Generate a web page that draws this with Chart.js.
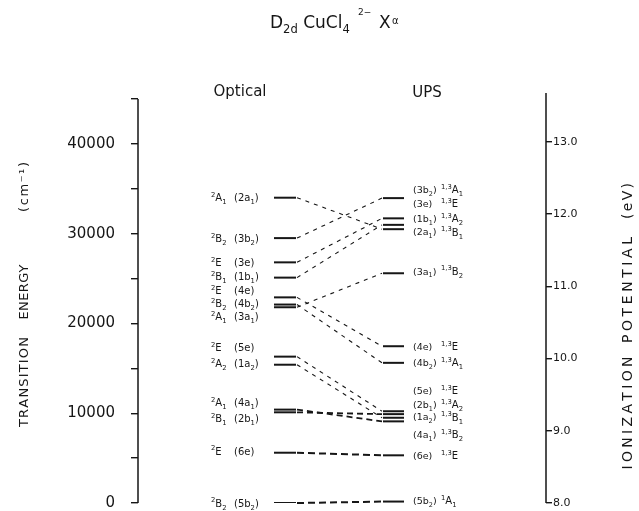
<!DOCTYPE html>
<html><head><meta charset="utf-8">
<script src="https://cdn.jsdelivr.net/npm/chart.js@4.4.0/dist/chart.umd.min.js"></script>
<style>html,body{margin:0;padding:0;background:#fff}canvas{display:block}</style>
</head><body>
<canvas id="c" width="639" height="511"></canvas>
<script>
// ---------------- data ----------------
const optStates   = ['^{2}A_{1}','^{2}B_{2}','^{2}E','^{2}B_{1}','^{2}E','^{2}B_{2}','^{2}A_{1}','^{2}E','^{2}A_{2}','^{2}A_{1}','^{2}B_{1}','^{2}E','^{2}B_{2}'];
const optOrbitals = ['2a_{1}','3b_{2}','3e','1b_{1}','4e','4b_{2}','3a_{1}','5e','1a_{2}','4a_{1}','2b_{1}','6e','5b_{2}'];
const optEnergy   = [34000,29500,26800,25100,22900,22100,21800,16300,15400,10400,10100,5600,0];      // cm-1
const optLabelEnergy = [34000,29500,26800,25200,23700,22200,20800,17300,15500,11200,9400,5800,0];   // cm-1
const upsOrbitals = ['3b_{2}','3e','1b_{1}','2a_{1}','3a_{1}','4e','4b_{2}','5e','2b_{1}','1a_{2}','4a_{1}','6e','5b_{2}'];
const upsStates   = ['^{1,3}A_{1}','^{1,3}E','^{1,3}A_{2}','^{1,3}B_{1}','^{1,3}B_{2}','^{1,3}E','^{1,3}A_{1}','^{1,3}E','^{1,3}A_{2}','^{1,3}B_{1}','^{1,3}B_{2}','^{1,3}E','^{1}A_{1}'];
const upsEnergy   = [12.22,11.94,11.85,11.79,11.18,10.17,9.94,9.27,9.23,9.18,9.13,8.66,8.02];         // eV
const upsLabelEnergy = [12.34,12.15,11.94,11.75,11.21,10.17,9.94,9.56,9.36,9.19,8.95,8.66,8.03];    // eV
const leftTickValues  = [0,5000,10000,15000,20000,25000,30000,35000,40000,45000];
const leftTickLabels  = [0,10000,20000,30000,40000];
const rightTickValues = [8,9,10,11,12,13];
const rightTickLabels = ['8.0','9.0','10.0','11.0','12.0','13.0'];

// ---------------- layout / style ----------------
const INK = '#161616';
const X_OPT = [136, 158];
const X_UPS = [245, 266];
const FAM = '"DejaVu Sans", sans-serif';

function conStyle(i){
  if (i >= 11) return {dash:[7,4], w:2};
  if (i >= 9)  return {dash:[6,4], w:1.8};
  return {dash:[4,5], w:1.1};
}

function parseRich(s){
  const out=[]; let i=0, buf='';
  while(i<s.length){
    if((s[i]==='^'||s[i]==='_') && s[i+1]==='{'){
      if(buf){out.push({t:buf,m:0});buf='';}
      const m = s[i]==='^'?1:-1; const j=s.indexOf('}',i);
      out.push({t:s.slice(i+2,j),m}); i=j+1;
    } else {buf+=s[i]; i++;}
  }
  if(buf) out.push({t:buf,m:0});
  return out;
}
function drawRich(ctx,s,x,y,size,align,fam){
  fam = fam||FAM;
  const parts=parseRich(s);
  const ms=parts.map(p=>{const fs=p.m?size*0.68:size; ctx.font=fs+'px '+fam; return [fs,ctx.measureText(p.t).width];});
  let w=0; parts.forEach((p,k)=>{ w+=ms[k][1]; });
  let cx = align==='right'? x-w : align==='center'? x-w/2 : x;
  const base = y + size*0.36;
  ctx.textBaseline='alphabetic'; ctx.textAlign='left';
  parts.forEach((p,k)=>{
    const [fs,pw]=ms[k]; ctx.font=fs+'px '+fam;
    const dy = p.m===1? -size*0.42 : p.m===-1? size*0.30 : 0;
    ctx.fillText(p.t,cx,base+dy); cx+=pw;
  });
}
function drawSpaced(ctx,text,cx,cy,width,font,rot){
  ctx.save(); ctx.translate(cx,cy); ctx.rotate(rot); ctx.font=font;
  ctx.textBaseline='middle'; ctx.textAlign='left';
  const chars=[...text]; const ws=chars.map(c=>ctx.measureText(c).width);
  const tot=ws.reduce((a,b)=>a+b,0);
  const gap = chars.length>1 ? (width-tot)/(chars.length-1) : 0;
  let px=-width/2; chars.forEach((c,k)=>{ctx.fillText(c,px,0); px+=ws[k]+gap;});
  ctx.restore();
}

const overlay = {
  id:'overlay',
  afterDraw(chart){
    const {ctx, chartArea, scales:{x,y,y2}} = chart;
    ctx.save();
    ctx.strokeStyle=INK; ctx.fillStyle=INK;
    // axis lines
    ctx.setLineDash([]); ctx.lineWidth=1.5;
    ctx.beginPath();
    ctx.moveTo(chartArea.left, y.getPixelForValue(0)); ctx.lineTo(chartArea.left, y.getPixelForValue(45000));
    ctx.moveTo(chartArea.right, y2.getPixelForValue(8)); ctx.lineTo(chartArea.right, chartArea.top);
    ctx.stroke();
    // correlation lines
    optOrbitals.forEach((o,i)=>{
      const j = upsOrbitals.indexOf(o); if(j<0) return;
      const st = conStyle(i);
      ctx.setLineDash(st.dash); ctx.lineWidth=st.w;
      ctx.beginPath();
      ctx.moveTo(x.getPixelForValue(X_OPT[1])+1, y.getPixelForValue(optEnergy[i]));
      ctx.lineTo(x.getPixelForValue(X_UPS[0])-1, y2.getPixelForValue(upsEnergy[j]));
      ctx.stroke();
    });
    ctx.setLineDash([]);
    // level labels
    optStates.forEach((s,i)=>{
      const py = y.getPixelForValue(optLabelEnergy[i]);
      drawRich(ctx, s, 211, py, 10, 'left');
      drawRich(ctx, '('+optOrbitals[i]+')', 234, py, 10, 'left');
    });
    upsOrbitals.forEach((s,i)=>{
      const py = y2.getPixelForValue(upsLabelEnergy[i]);
      drawRich(ctx, '('+s+')', 413, py, 9.5, 'left');
      drawRich(ctx, upsStates[i], 441, py, 10, 'left');
    });
    // headers
    ctx.font='15px '+FAM; ctx.textAlign='center'; ctx.textBaseline='middle';
    ctx.fillText('Optical', 240, 92);
    ctx.fillText('UPS', 427, 93);
    // title
    drawRich(ctx, 'D_{2d} CuCl_{4}', 270, 22, 17, 'left');
    ctx.font='9px '+FAM; ctx.textAlign='left'; ctx.textBaseline='alphabetic';
    ctx.fillText('2\u2212', 358, 15);
    ctx.font='17px '+FAM; ctx.fillText('X', 379, 28);
    ctx.font='10px '+FAM; ctx.fillText('\u03b1', 392, 24);
    // axis titles
    const tf='13px '+FAM;
    drawSpaced(ctx,'TRANSITION',25,382,90,tf,-Math.PI/2);
    drawSpaced(ctx,'ENERGY',25,292,55,tf,-Math.PI/2);
    drawSpaced(ctx,'(cm\u207b\u00b9)',25,187,50,tf,-Math.PI/2);
    const rf='14px '+FAM;
    drawSpaced(ctx,'IONIZATION',628,413,113,rf,-Math.PI/2);
    drawSpaced(ctx,'POTENTIAL',628,290,106,rf,-Math.PI/2);
    drawSpaced(ctx,'(eV)',628,201,36,rf,-Math.PI/2);
    ctx.restore();
  }
};

const datasets = [];
optEnergy.forEach(e=>datasets.push({data:[{x:X_OPT[0],y:e},{x:X_OPT[1],y:e}], yAxisID:'y',
  borderColor:INK, borderWidth:2, pointRadius:0, showLine:true, fill:false}));
upsEnergy.forEach(e=>datasets.push({data:[{x:X_UPS[0],y:e},{x:X_UPS[1],y:e}], yAxisID:'y2',
  borderColor:INK, borderWidth:2, pointRadius:0, showLine:true, fill:false}));

function fixPad(w){ return s=>{ s.width=w; s.paddingTop=0; s.paddingBottom=0; }; }

new Chart(document.getElementById('c'), {
  type:'scatter',
  data:{datasets},
  options:{
    responsive:false, animation:false, devicePixelRatio:1,
    layout:{padding:{top:93,bottom:8,left:0,right:0}},
    plugins:{legend:{display:false}, tooltip:{enabled:false}, title:{display:false}},
    scales:{
      x:{type:'linear', display:false, min:0, max:408},
      y:{type:'linear', position:'left', min:0, max:45660,
         afterBuildTicks:s=>{ s.ticks = leftTickValues.map(v=>({value:v})); },
         afterFit:fixPad(138),
         border:{display:false},
         grid:{drawOnChartArea:false, drawTicks:true, tickLength:7, color:INK, lineWidth:1.4},
         ticks:{autoSkip:false, padding:16, color:INK,
                font:{family:FAM, size:15},
                callback:v=> leftTickLabels.includes(v) ? String(v) : ''}},
      y2:{type:'linear', position:'right', min:8, max:13.675,
         afterBuildTicks:s=>{ s.ticks = rightTickValues.map(v=>({value:v})); },
         afterFit:fixPad(93),
         border:{display:false},
         grid:{drawOnChartArea:false, drawTicks:true, tickLength:6, color:INK, lineWidth:1.4},
         ticks:{autoSkip:false, padding:1, color:INK,
                font:{family:FAM, size:11},
                callback:v=> rightTickLabels[rightTickValues.indexOf(v)] || ''}}
    }
  },
  plugins:[overlay]
});
</script>
</body></html>
